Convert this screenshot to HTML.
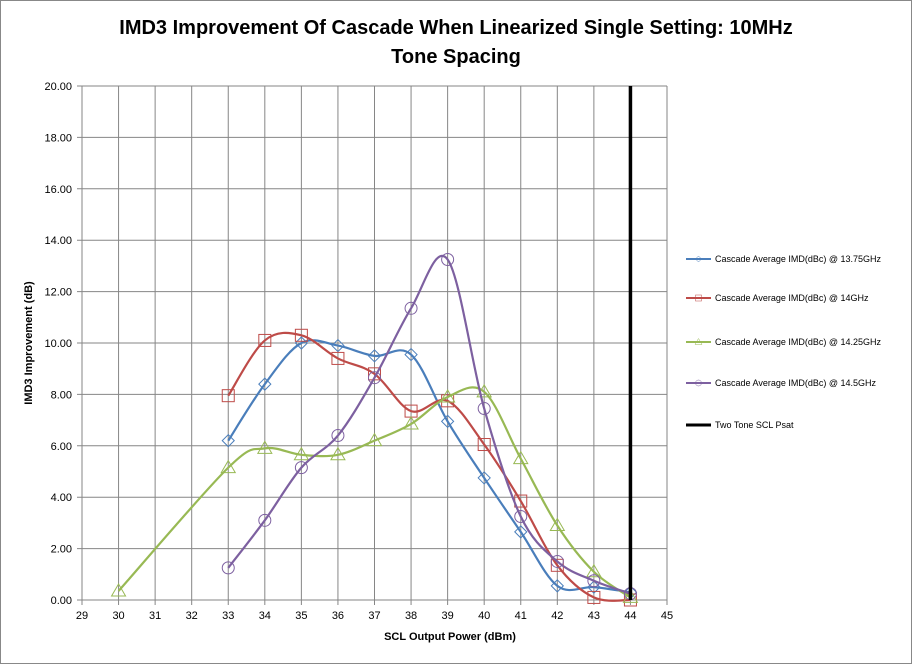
<!DOCTYPE html>
<html><head><meta charset="utf-8"><style>
body{margin:0;background:#fff;font-family:"Liberation Sans",sans-serif}
svg text{font-family:"Liberation Sans",sans-serif}
</style></head><body>
<svg id="c" width="912" height="664">
<rect x="0.5" y="0.5" width="911" height="663" fill="#fff" stroke="#888"/>
<text x="456" y="34" text-anchor="middle" font-size="20" font-weight="bold">IMD3 Improvement Of Cascade When Linearized Single Setting: 10MHz</text>
<text x="456" y="63" text-anchor="middle" font-size="20" font-weight="bold">Tone Spacing</text>
<text x="450" y="640" text-anchor="middle" font-size="11" font-weight="bold">SCL Output Power (dBm)</text>
<text transform="translate(32,343) rotate(-90)" text-anchor="middle" font-size="11" font-weight="bold">IMD3 Improvement  (dB)</text>
<g id="grid"></g><g id="series"></g><g id="legend"></g>
</svg>
<script>
const xTicks=[29,30,31,32,33,34,35,36,37,38,39,40,41,42,43,44,45];
const yTicks=[0,2,4,6,8,10,12,14,16,18,20];
const names=["Cascade Average IMD(dBc) @ 13.75GHz","Cascade Average IMD(dBc) @ 14GHz","Cascade Average IMD(dBc) @ 14.25GHz","Cascade Average IMD(dBc) @ 14.5GHz"];
const xBlue=[33,34,35,36,37,38,39,40,41,42,43,44];
const yBlue=[6.2,8.4,10.0,9.9,9.5,9.55,6.95,4.75,2.65,0.55,0.5,0.3];
const xRed=[33,34,35,36,37,38,39,40,41,42,43,44];
const yRed=[7.95,10.1,10.3,9.4,8.8,7.35,7.75,6.05,3.85,1.35,0.1,0.0];
const xGreen=[30,33,34,35,36,37,38,39,40,41,42,43,44];
const yGreen=[0.35,5.15,5.9,5.65,5.65,6.2,6.85,7.9,8.1,5.5,2.9,1.1,0.1];
const xPurple=[33,34,35,36,37,38,39,40,41,42,43,44];
const yPurple=[1.25,3.1,5.15,6.4,8.65,11.35,13.25,7.45,3.25,1.5,0.75,0.25];
const psatX=44;
const NS="http://www.w3.org/2000/svg";
const X=v=>82+(v-29)*(585/16), Y=v=>600-v*25.7;
function mk(t,a,p){const e=document.createElementNS(NS,t);for(const k in a)e.setAttribute(k,a[k]);p.appendChild(e);return e;}
const g=document.getElementById('grid');
xTicks.forEach(t=>{const l=mk('line',{x1:X(t),x2:X(t),y1:Y(20),y2:Y(0)+5,stroke:'#868686'},g);


const tx=mk('text',{x:X(t),y:619,'text-anchor':'middle','font-size':11},g);tx.textContent=t;

});
yTicks.forEach(t=>{const l=mk('line',{x1:X(29)-5,x2:X(45),y1:Y(t),y2:Y(t),stroke:'#868686'},g);


const tx=mk('text',{x:X(29)-10,y:Y(t)+4,'text-anchor':'end','font-size':11},g);tx.textContent=t.toFixed(2);

});
function spline(xs,ys){const p=xs.map((x,i)=>[X(x),Y(ys[i])]);let d=`M${p[0][0]},${p[0][1]}`;
for(let i=0;i<p.length-1;i++){const p0=p[i-1]||p[i],p1=p[i],p2=p[i+1],p3=p[i+2]||p2;const s=6;
d+=` C${p1[0]+(p2[0]-p0[0])/s},${p1[1]+(p2[1]-p0[1])/s} ${p2[0]-(p3[0]-p1[0])/s},${p2[1]-(p3[1]-p1[1])/s} ${p2[0]},${p2[1]}`;}return d;}
function marker(type,cx,cy,col,par){let e;
if(type==='d')e=mk('path',{d:`M${cx},${cy-6}L${cx+6},${cy}L${cx},${cy+6}L${cx-6},${cy}Z`,fill:'none',stroke:col},par);
else if(type==='s')e=mk('rect',{x:cx-6,y:cy-6,width:12,height:12,fill:'none',stroke:col},par);
else if(type==='t')e=mk('path',{d:`M${cx},${cy-7}L${cx+7},${cy+5}L${cx-7},${cy+5}Z`,fill:'none',stroke:col},par);
else e=mk('circle',{cx,cy,r:6,fill:'none',stroke:col},par);return e;}
const S=document.getElementById('series');
const series=[[xBlue,yBlue,'#4a7ebb','d','series-13-75ghz'],[xRed,yRed,'#be4b48','s','series-14ghz'],[xGreen,yGreen,'#98b954','t','series-14-25ghz'],[xPurple,yPurple,'#7d60a0','c','series-14-5ghz']];
series.forEach(([xs,ys,col,m,n])=>{const gg=mk('g',{},S);


mk('path',{d:spline(xs,ys),fill:'none',stroke:col,'stroke-width':2.2},gg);
xs.forEach((x,i)=>{const e=marker(m,X(x),Y(ys[i]),col,gg);

});});
const ps=mk('line',{x1:X(psatX),x2:X(psatX),y1:Y(20),y2:Y(0),stroke:'#000','stroke-width':3.5},S);


const L=document.getElementById('legend');
const ly=[259,298,342,383,425];const cols=['#4a7ebb','#be4b48','#98b954','#7d60a0','#000'];const ms=['d','s','t','c',null];
names.concat(['Two Tone SCL Psat']).forEach((n,i)=>{const gg=mk('g',{},L);


mk('line',{x1:686,x2:711,y1:ly[i],y2:ly[i],stroke:cols[i],'stroke-width':i==4?3:2},gg);
if(ms[i]){const e=mk('g',{transform:`translate(698.5,${ly[i]}) scale(0.5) translate(-698.5,${-ly[i]})`},gg);marker(ms[i],698.5,ly[i],cols[i],e);}
const t=mk('text',{x:715,y:ly[i]+3,'font-size':9},gg);t.textContent=n;});
</script>
</body></html>
